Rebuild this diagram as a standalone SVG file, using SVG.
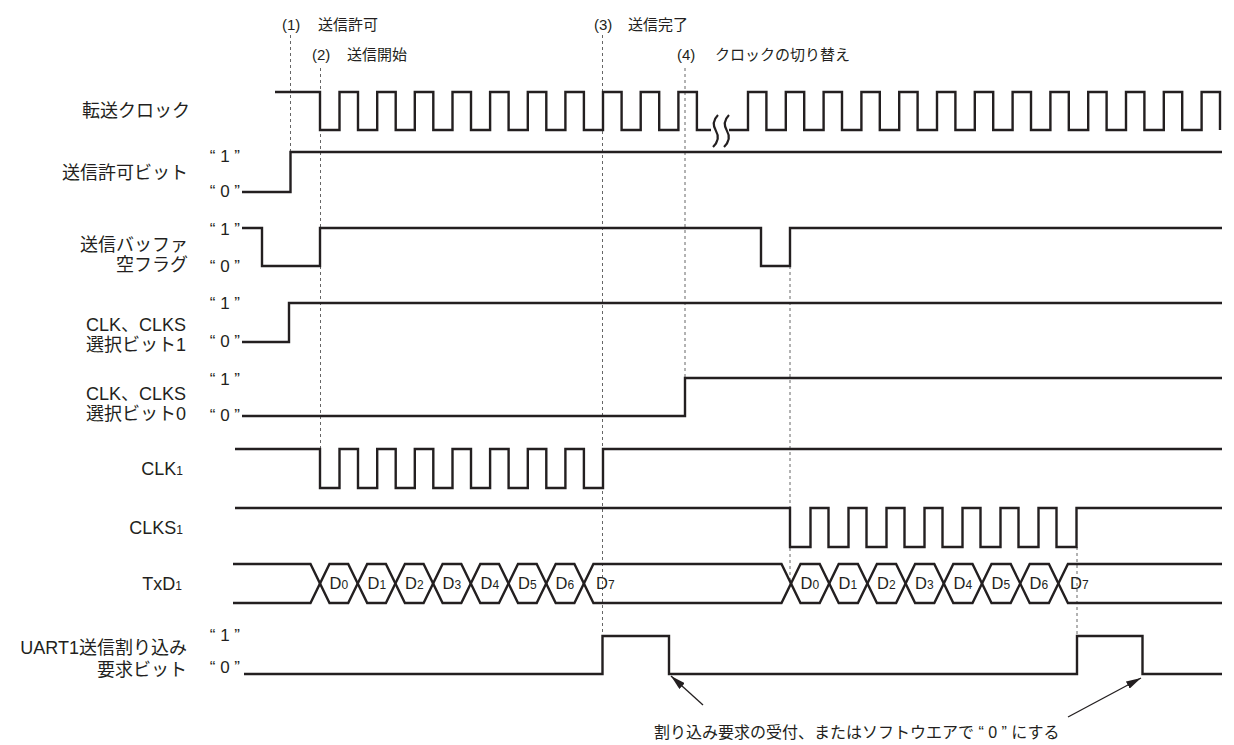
<svg xmlns="http://www.w3.org/2000/svg" width="1234" height="745" viewBox="0 0 1234 745">
<style>
.w{fill:none;stroke:#231f20;stroke-width:2.4;stroke-linejoin:miter;stroke-linecap:butt}
.sq{fill:none;stroke:#231f20;stroke-width:2.2}
.d{fill:none;stroke:#666;stroke-width:1;stroke-dasharray:3,3}
.lab{font-family:"Liberation Sans","Noto Sans CJK JP",sans-serif;font-size:18px;fill:#231f20;text-anchor:end}
.top{font-family:"Liberation Sans","Noto Sans CJK JP",sans-serif;font-size:15px;fill:#231f20}
.q{font-family:"Liberation Sans",sans-serif;font-size:17px;fill:#231f20;text-anchor:end}
.dl{font-family:"Liberation Sans",sans-serif;font-size:16.5px;fill:#231f20}
.sub{font-size:12px}
.arr{fill:none;stroke:#231f20;stroke-width:1.3}
.note{font-family:"Liberation Sans","Noto Sans CJK JP",sans-serif;font-size:16px;fill:#231f20}
</style>
<defs>
<marker id="ah" viewBox="0 0 15 8" refX="15" refY="4" markerWidth="15" markerHeight="8" orient="auto" markerUnits="userSpaceOnUse"><path d="M0,0 L15,4 L0,8 z" fill="#231f20"/></marker>
</defs>
<rect width="1234" height="745" fill="#fff"/>

<g id="events">
<text class="top" x="282" y="30">(1)</text><text class="top" x="318" y="30">送信許可</text>
<text class="top" x="312" y="60">(2)</text><text class="top" x="347" y="60">送信開始</text>
<text class="top" x="594" y="30">(3)</text><text class="top" x="628" y="30">送信完了</text>
<text class="top" x="677" y="60">(4)</text><text class="top" x="715" y="60">クロックの切り替え</text>
</g>

<g id="connectors">
<line class="d" x1="290.5" y1="35" x2="290.5" y2="152"/>
<line class="d" x1="320.5" y1="68" x2="320.5" y2="449"/>
<line class="d" x1="602.5" y1="35" x2="602.5" y2="636"/>
<line class="d" x1="685" y1="68" x2="685" y2="378"/>
<line class="d" x1="790" y1="266" x2="790" y2="583"/>
<line class="d" x1="1077" y1="547" x2="1077" y2="636"/>
<line class="arr" x1="703" y1="705" x2="671" y2="676" marker-end="url(#ah)"/>
<line class="arr" x1="1068" y1="717" x2="1141" y2="678" marker-end="url(#ah)"/>
</g>

<g id="transfer-clock">
<text class="lab" x="190" y="117">転送クロック</text>
<path class="w" d="M275,92 H320 V130 H339.5 V92 H358 V130 H377.2 V92 H395.7 V130 H414.8 V92 H433.3 V130 H452.5 V92 H471 V130 H490.1 V92 H508.6 V130 H527.8 V92 H546.3 V130 H565.4 V92 H583.9 V130 H603 V92 H621.6 V130 H640.7 V92 H659.2 V130 H678.4 V92 H696.9 V130 H711"/>
<path class="sq" d="M718,115 C712,121 713,126 716,131 C719,136 719,141 713,147"/>
<path class="sq" d="M729,115 C723,121 724,126 727,131 C730,136 730,141 724,147"/>
<path class="w" d="M729,130 H748 V92 H766.4 V130 H785.8 V92 H804.2 V130 H823.6 V92 H842 V130 H861.4 V92 H879.8 V130 H899.2 V92 H917.6 V130 H937 V92 H955.4 V130 H974.8 V92 H993.2 V130 H1012.6 V92 H1031 V130 H1050.4 V92 H1068.8 V130 H1088.2 V92 H1106.6 V130 H1126 V92 H1144.4 V130 H1163.8 V92 H1182.2 V130 H1201.6 V92 H1220 V130"/>
</g>

<g id="tx-enable">
<text class="lab" x="188" y="179">送信許可ビット</text>
<text class="q" x="240" y="162">“ 1 ”</text>
<text class="q" x="240" y="197">“ 0 ”</text>
<path class="w" d="M242,192 H290.5 V152 H1222"/>
</g>

<g id="tx-buffer-empty">
<text class="lab" x="188" y="251">送信バッファ</text>
<text class="lab" x="188" y="271">空フラグ</text>
<text class="q" x="240" y="235">“ 1 ”</text>
<text class="q" x="240" y="272">“ 0 ”</text>
<path class="w" d="M242,228 H262 V266 H320 V228 H761 V266 H790 V228 H1222"/>
</g>

<g id="clk-select-1">
<text class="lab" x="186" y="331">CLK、CLKS</text>
<text class="lab" x="186" y="351">選択ビット1</text>
<text class="q" x="240" y="309">“ 1 ”</text>
<text class="q" x="240" y="347">“ 0 ”</text>
<path class="w" d="M242,342 H289 V303 H1222"/>
</g>

<g id="clk-select-0">
<text class="lab" x="186" y="400">CLK、CLKS</text>
<text class="lab" x="186" y="420">選択ビット0</text>
<text class="q" x="240" y="385">“ 1 ”</text>
<text class="q" x="240" y="421">“ 0 ”</text>
<path class="w" d="M242,416 H685 V378 H1222"/>
</g>

<g id="clk1">
<text class="lab" x="183" y="475">CLK<tspan class="sub">1</tspan></text>
<path class="w" d="M235,449 H320 V488 H339.5 V449 H358 V488 H377.2 V449 H395.7 V488 H414.8 V449 H433.3 V488 H452.5 V449 H471 V488 H490.1 V449 H508.6 V488 H527.8 V449 H546.3 V488 H565.4 V449 H583.9 V488 H603 V449 H1222"/>
</g>

<g id="clks1">
<text class="lab" x="183" y="534">CLKS<tspan class="sub">1</tspan></text>
<path class="w" d="M235,508 H790 V547 H810.5 V508 H828.5 V547 H848.5 V508 H866.5 V547 H886.5 V508 H904.5 V547 H924.5 V508 H942.5 V547 H962.5 V508 H980.5 V547 H1000.5 V508 H1018.5 V547 H1038.5 V508 H1056.5 V547 H1076.5 V508 H1222"/>
</g>

<g id="txd1">
<text class="lab" x="182" y="590">TxD<tspan class="sub">1</tspan></text>
<path class="w" d="M233,564 H310.5 L329.5,603 H348.2 L367.2,564 H385.9 L404.9,603 H423.6 L442.6,564 H461.3 L480.3,603 H499 L518,564 H536.7 L555.7,603 H574.4 L593.4,564 H781.5 L800.5,603 H819.7 L838.7,564 H857.9 L876.9,603 H896.1 L915.1,564 H934.3 L953.3,603 H972.5 L991.5,564 H1010.7 L1029.7,603 H1048.9 L1067.9,564 H1222"/>
<path class="w" d="M233,603 H310.5 L329.5,564 H348.2 L367.2,603 H385.9 L404.9,564 H423.6 L442.6,603 H461.3 L480.3,564 H499 L518,603 H536.7 L555.7,564 H574.4 L593.4,603 H781.5 L800.5,564 H819.7 L838.7,603 H857.9 L876.9,564 H896.1 L915.1,603 H934.3 L953.3,564 H972.5 L991.5,603 H1010.7 L1029.7,564 H1048.9 L1067.9,603 H1222"/>
<text class="dl" x="329.5" y="589">D<tspan class="sub">0</tspan></text>
<text class="dl" x="367.5" y="589">D<tspan class="sub">1</tspan></text>
<text class="dl" x="405" y="589">D<tspan class="sub">2</tspan></text>
<text class="dl" x="442.5" y="589">D<tspan class="sub">3</tspan></text>
<text class="dl" x="480.5" y="589">D<tspan class="sub">4</tspan></text>
<text class="dl" x="518" y="589">D<tspan class="sub">5</tspan></text>
<text class="dl" x="555.5" y="589">D<tspan class="sub">6</tspan></text>
<text class="dl" x="596" y="589">D<tspan class="sub">7</tspan></text>
<text class="dl" x="800.5" y="589">D<tspan class="sub">0</tspan></text>
<text class="dl" x="838.5" y="589">D<tspan class="sub">1</tspan></text>
<text class="dl" x="877" y="589">D<tspan class="sub">2</tspan></text>
<text class="dl" x="915" y="589">D<tspan class="sub">3</tspan></text>
<text class="dl" x="953.5" y="589">D<tspan class="sub">4</tspan></text>
<text class="dl" x="991.5" y="589">D<tspan class="sub">5</tspan></text>
<text class="dl" x="1029.5" y="589">D<tspan class="sub">6</tspan></text>
<text class="dl" x="1070" y="589">D<tspan class="sub">7</tspan></text>
</g>

<g id="uart1-int">
<text class="lab" x="187" y="654">UART1送信割り込み</text>
<text class="lab" x="187" y="676">要求ビット</text>
<text class="q" x="240" y="641">“ 1 ”</text>
<text class="q" x="240" y="673">“ 0 ”</text>
<path class="w" d="M244,674 H602.5 V636 H669 V674 H1077 V636 H1142.5 V674 H1222"/>
</g>

<g id="note">
<text class="note" x="654" y="738">割り込み要求の受付、またはソフトウエアで “ 0 ” にする</text>
</g>
</svg>
